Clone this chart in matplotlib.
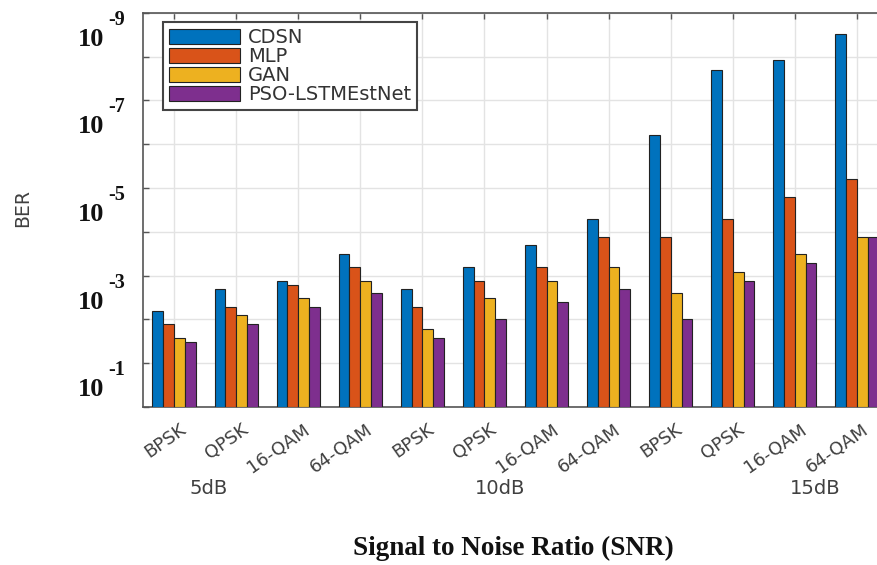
#!/usr/bin/env python3
# -*- coding: utf-8 -*-
"""
Grouped bar chart of BER for each modulation / SNR, MATLAB look
"""

import numpy as np
import matplotlib
matplotlib.use('Agg')
import matplotlib.pyplot as plt
from matplotlib.transforms import ScaledTranslation

# ---------------------------------------------------------------------------
# DATA
# ---------------------------------------------------------------------------
modulations = ['BPSK', 'QPSK', '16-QAM', '64-QAM'] * 3
snr_labels = ['5dB', '10dB', '15dB']
models = ['CDSN', 'MLP', 'GAN', 'PSO-LSTMEstNet']

ber_cdsn = [6.5e-3, 2.0e-3, 1.3e-3, 3.2e-4, 2.0e-3, 6.3e-4, 2.0e-4, 5.1e-5,
            6.2e-7, 2.0e-8, 1.2e-8, 3.0e-9]
ber_mlp = [1.3e-2, 5.2e-3, 1.6e-3, 6.3e-4, 5.2e-3, 1.3e-3, 6.3e-4, 1.3e-4,
           1.3e-4, 5.1e-5, 1.6e-5, 6.3e-6]
ber_gan = [2.6e-2, 7.9e-3, 3.2e-3, 1.3e-3, 1.7e-2, 3.3e-3, 1.3e-3, 6.3e-4,
           2.5e-3, 8.1e-4, 3.2e-4, 1.3e-4]
ber_pso = [3.2e-2, 1.3e-2, 5.2e-3, 2.5e-3, 2.6e-2, 1.0e-2, 4.0e-3, 2.0e-3,
           1.0e-2, 1.3e-3, 5.2e-4, 1.3e-4]

y_decades = [1e-9, 1e-7, 1e-5, 1e-3, 1e-1]
y_exponents = ['-9', '-7', '-5', '-3', '-1']

colors = ['#0072BD', '#D95319', '#EDB120', '#7E2F8E']

# ---------------------------------------------------------------------------
# PLOT
# ---------------------------------------------------------------------------
def main():
    fig = plt.figure(figsize=(8.77, 5.65), dpi=100)
    W, H = 877., 565.
    ax = fig.add_axes([143/W, 1-407/H, (888-143)/W, (407-12.7)/H])

    x = np.arange(len(modulations))
    bw = 0.174
    series = [ber_cdsn, ber_mlp, ber_gan, ber_pso]
    for i, (vals, c, lab) in enumerate(zip(series, colors, models)):
        vals = np.array(vals)
        ax.bar(x + (i-1.5)*bw, 1.0 - vals, bottom=vals, width=bw,
               color=c, edgecolor='#222222', linewidth=0.8, label=lab,
               zorder=3)

    ax.set_yscale('log')
    ax.set_ylim(1.0, 1e-9)
    ax.set_xlim(-0.5, len(modulations)-0.5)

    #- grid + MATLAB-like frame
    ax.set_yticks([10.0**(-k) for k in range(0, 10)])
    ax.minorticks_off()
    ax.set_yticklabels([])
    ax.grid(True, color='#e3e3e3', linewidth=1.0, zorder=0)
    for s in ax.spines.values():
        s.set_color('#555555')
        s.set_linewidth(1.2)
    ax.tick_params(axis='both', direction='in', length=4, width=1,
                   color='#555555', top=True, right=True)

    #- x tick labels, rotated
    ax.set_xticks(x)
    ax.set_xticklabels(modulations, rotation=35, ha='right', va='center',
                       rotation_mode='anchor', fontsize=13,
                       family='DejaVu Sans', color='#404040')
    ax.tick_params(axis='x', pad=15)
    offset = ScaledTranslation(10/100., 0, fig.dpi_scale_trans)
    for lbl in ax.get_xticklabels():
        lbl.set_transform(lbl.get_transform() + offset)

    #- y tick labels as "10" + exponent, Times bold
    for v, e in zip(y_decades, y_exponents):
        ax.annotate('10', xy=(0, v), xycoords=('axes fraction', 'data'),
                    xytext=(-39, -33), textcoords='offset pixels',
                    ha='right', va='baseline', fontsize=19,
                    family='Liberation Serif', fontweight='bold',
                    color='#111111')
        ax.annotate(e, xy=(0, v), xycoords=('axes fraction', 'data'),
                    xytext=(-35, -12), textcoords='offset pixels',
                    ha='left', va='baseline', fontsize=14.5,
                    family='Liberation Serif', fontweight='bold',
                    color='#111111')

    #- SNR group labels
    for gx, txt in zip([0.55, 5.25, 10.32], snr_labels):
        ax.annotate(txt, xy=(gx, 0), xycoords=('data', 'axes fraction'),
                    xytext=(0, -82), textcoords='offset pixels',
                    ha='center', va='center', fontsize=14,
                    family='DejaVu Sans', color='#404040')

    fig.text(23/W, 1-208/H, 'BER', rotation=90, ha='center', va='center',
             fontsize=13.5, family='DejaVu Sans', color='#404040')
    fig.text(513/W, 1-555/H, 'Signal to Noise Ratio (SNR)', ha='center',
             va='baseline', fontsize=19.5, family='Liberation Serif',
             fontweight='bold', color='#111111')

    leg = ax.legend(loc='upper left',
                    bbox_to_anchor=((162.7-143)/745., (407-22.3)/394.3),
                    borderaxespad=0, handlelength=3.7,
                    handleheight=0.85, handletextpad=0.4, labelspacing=0.0,
                    borderpad=0.3, fancybox=False, framealpha=1,
                    prop={'family': 'DejaVu Sans', 'size': 14})
    leg.get_frame().set_edgecolor('#444444')
    leg.get_frame().set_linewidth(1.5)
    for t in leg.get_texts():
        t.set_color('#333333')

    plt.savefig('out.png', dpi=100)

# ---------------------------------------------------------------------------
if __name__ == "__main__":
    main()
